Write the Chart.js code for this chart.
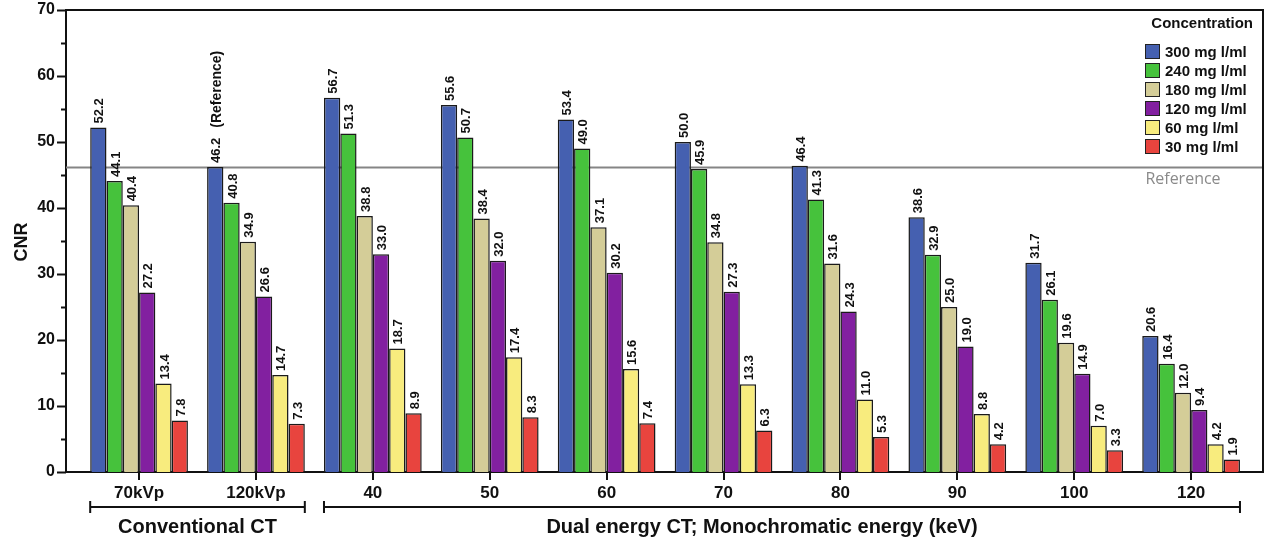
<!DOCTYPE html>
<html>
<head>
<meta charset="utf-8">
<script src="https://cdn.jsdelivr.net/npm/chart.js@4/dist/chart.umd.min.js"></script>
<style>
  html, body { margin: 0; padding: 0; background: #fff; }
  #wrap { width: 1266px; height: 545px; position: relative; }
</style>
</head>
<body>
<div id="wrap"><canvas id="c" width="1266" height="545"></canvas></div>
<script>
// Scan settings along the x axis
const categories = ['70kVp', '120kVp', '40', '50', '60', '70', '80', '90', '100', '120'];

// CNR per iodine concentration
const cnr300 = [52.2, 46.2, 56.7, 55.6, 53.4, 50.0, 46.4, 38.6, 31.7, 20.6];
const cnr240 = [44.1, 40.8, 51.3, 50.7, 49.0, 45.9, 41.3, 32.9, 26.1, 16.4];
const cnr180 = [40.4, 34.9, 38.8, 38.4, 37.1, 34.8, 31.6, 25.0, 19.6, 12.0];
const cnr120 = [27.2, 26.6, 33.0, 32.0, 30.2, 27.3, 24.3, 19.0, 14.9, 9.4];
const cnr60  = [13.4, 14.7, 18.7, 17.4, 15.6, 13.3, 11.0, 8.8, 7.0, 4.2];
const cnr30  = [7.8, 7.3, 8.9, 8.3, 7.4, 6.3, 5.3, 4.2, 3.3, 1.9];

const seriesNames = ['300 mg l/ml', '240 mg l/ml', '180 mg l/ml', '120 mg l/ml', '60 mg l/ml', '30 mg l/ml'];
const seriesValues = [cnr300, cnr240, cnr180, cnr120, cnr60, cnr30];
const seriesColors = ['#4560b0', '#46c23c', '#d4cd98', '#8220a0', '#f8ec7e', '#e8443e'];

const referenceValue = 46.2;   // 120kVp, 300 mg l/ml
const yTicks = [0, 10, 20, 30, 40, 50, 60, 70];
const groups = [
  { label: 'Conventional CT', from: 0, to: 1 },
  { label: 'Dual energy CT; Monochromatic energy (keV)', from: 2, to: 9 }
];

const FONT = '"Liberation Sans", Arial, sans-serif';

const datasets = seriesNames.map((name, s) => ({
  label: name,
  data: seriesValues[s].map((v, i) => ({ x: i, y: v })),
  backgroundColor: seriesColors[s],
  borderColor: '#1a1a1a',
  borderWidth: 1.5,
  inflateAmount: 0,
  borderSkipped: 'start',
  categoryPercentage: 0.836,
  barPercentage: 1.0
}));

const decorations = {
  id: 'decorations',
  beforeDatasetsDraw(chart) {
    const { ctx, chartArea: a, scales: { y } } = chart;
    const py = Math.round(y.getPixelForValue(referenceValue)) + 0.5;
    ctx.save();
    ctx.strokeStyle = '#858585';
    ctx.lineWidth = 2;
    ctx.beginPath();
    ctx.moveTo(a.left, py);
    ctx.lineTo(a.right, py);
    ctx.stroke();
    ctx.restore();
  },
  afterDatasetsDraw(chart) {
    const { ctx } = chart;
    ctx.save();
    ctx.fillStyle = '#111';
    ctx.textAlign = 'left';
    ctx.textBaseline = 'middle';
    chart.data.datasets.forEach((ds, s) => {
      const meta = chart.getDatasetMeta(s);
      meta.data.forEach((el, i) => {
        const txt = seriesValues[s][i].toFixed(1);
        ctx.save();
        ctx.translate(el.x + 1.5, el.y - 4);
        ctx.rotate(-Math.PI / 2);
        ctx.font = 'bold 13px ' + FONT;
        ctx.fillText(txt, 0, 0);
        if (s === 0 && i === 1) {
          const w = ctx.measureText(txt).width;
          ctx.font = 'bold 14px ' + FONT;
          ctx.fillText('(Reference)', w + 10, 0);
        }
        ctx.restore();
      });
    });
    ctx.restore();
  },
  afterDraw(chart) {
    const { ctx, chartArea: a, scales: { x, y } } = chart;
    ctx.save();

    // frame
    ctx.strokeStyle = '#111';
    ctx.lineWidth = 2;
    ctx.beginPath();
    ctx.moveTo(a.left, a.top);
    ctx.lineTo(a.right, a.top);
    ctx.lineTo(a.right, a.bottom);
    ctx.stroke();

    // y tick marks: long at labelled values, short in between
    ctx.lineWidth = 2;
    for (let v = 0; v <= 70; v += 5) {
      const py = Math.round(y.getPixelForValue(v)) + 0.5;
      const len = v % 10 === 0 ? 9 : 5;
      ctx.beginPath();
      ctx.moveTo(a.left - len, py);
      ctx.lineTo(a.left, py);
      ctx.stroke();
    }
    // x tick marks
    categories.forEach((c, i) => {
      const px = Math.round(x.getPixelForValue(i));
      ctx.beginPath();
      ctx.moveTo(px, a.bottom);
      ctx.lineTo(px, a.bottom + 8);
      ctx.stroke();
    });

    // y axis title
    ctx.fillStyle = '#111';
    ctx.font = 'bold 18px ' + FONT;
    ctx.textAlign = 'center';
    ctx.textBaseline = 'middle';
    ctx.save();
    ctx.translate(22, 242);
    ctx.rotate(-Math.PI / 2);
    ctx.fillText('CNR', 0, 0);
    ctx.restore();

    // group brackets below the axis
    const first = chart.getDatasetMeta(0).data;
    const last = chart.getDatasetMeta(seriesNames.length - 1).data;
    const by = 507;
    groups.forEach(g => {
      const x0 = first[g.from].x - first[g.from].width / 2;
      const x1 = last[g.to].x + last[g.to].width / 2;
      ctx.strokeStyle = '#111';
      ctx.lineWidth = 2;
      ctx.beginPath();
      ctx.moveTo(x0, by); ctx.lineTo(x1, by);
      ctx.moveTo(x0, by - 6); ctx.lineTo(x0, by + 6);
      ctx.moveTo(x1, by - 6); ctx.lineTo(x1, by + 6);
      ctx.stroke();
      ctx.font = 'bold 20px ' + FONT;
      ctx.fillStyle = '#111';
      const cx = g.from === 0 ? (x0 + x1) / 2 : (x0 + x1) / 2 - 20;
      ctx.fillText(g.label, cx, 527);
    });

    // legend
    const lx = 1145, rx = 1253;
    ctx.font = 'bold 15px ' + FONT;
    ctx.textAlign = 'right';
    ctx.fillStyle = '#111';
    ctx.fillText('Concentration', rx, 24);
    ctx.textAlign = 'left';
    seriesNames.forEach((n, s) => {
      const cy = 51.5 + s * 19;
      ctx.fillStyle = seriesColors[s];
      ctx.fillRect(lx, cy - 7.5, 15, 15);
      ctx.strokeStyle = '#222';
      ctx.lineWidth = 1;
      ctx.strokeRect(lx + 0.5, cy - 7, 14, 14);
      ctx.fillStyle = '#111';
      ctx.fillText(n, lx + 20, cy + 1);
    });

    // reference line caption
    ctx.font = '16px "Open Sans", "DejaVu Sans", sans-serif';
    ctx.fillStyle = '#8a8a8a';
    ctx.textAlign = 'center';
    ctx.fillText('Reference', 1183, 179);

    ctx.restore();
  }
};

new Chart(document.getElementById('c'), {
  type: 'bar',
  data: { datasets },
  options: {
    responsive: false,
    animation: false,
    events: [],
    layout: { padding: { top: 10, right: 3, left: 0, bottom: 0 } },
    plugins: { legend: { display: false }, tooltip: { enabled: false }, title: { display: false } },
    scales: {
      x: {
        type: 'linear',
        min: -0.625,
        max: 9.615,
        offset: false,
        afterBuildTicks(scale) { scale.ticks = categories.map((c, i) => ({ value: i })); },
        afterFit(scale) {
          scale.height = 73;
          scale.paddingLeft = 0; scale.paddingRight = 0;
        },
        grid: { display: false, drawTicks: false },
        border: { display: true, color: '#111', width: 2 },
        ticks: {
          autoSkip: false,
          maxRotation: 0,
          padding: 11,
          color: '#111',
          font: { family: FONT, size: 17, weight: 'bold' },
          callback: (v) => categories[v]
        }
      },
      y: {
        min: 0,
        max: 70,
        afterBuildTicks(scale) { scale.ticks = yTicks.map(v => ({ value: v })); },
        afterFit(scale) {
          scale.width = 66;
          scale.paddingTop = 0; scale.paddingBottom = 0;
        },
        grid: { display: false, drawTicks: false },
        border: { display: true, color: '#111', width: 2 },
        ticks: {
          padding: 11,
          color: '#111',
          font: { family: FONT, size: 16, weight: 'bold' }
        }
      }
    }
  },
  plugins: [decorations]
});
</script>
</body>
</html>
